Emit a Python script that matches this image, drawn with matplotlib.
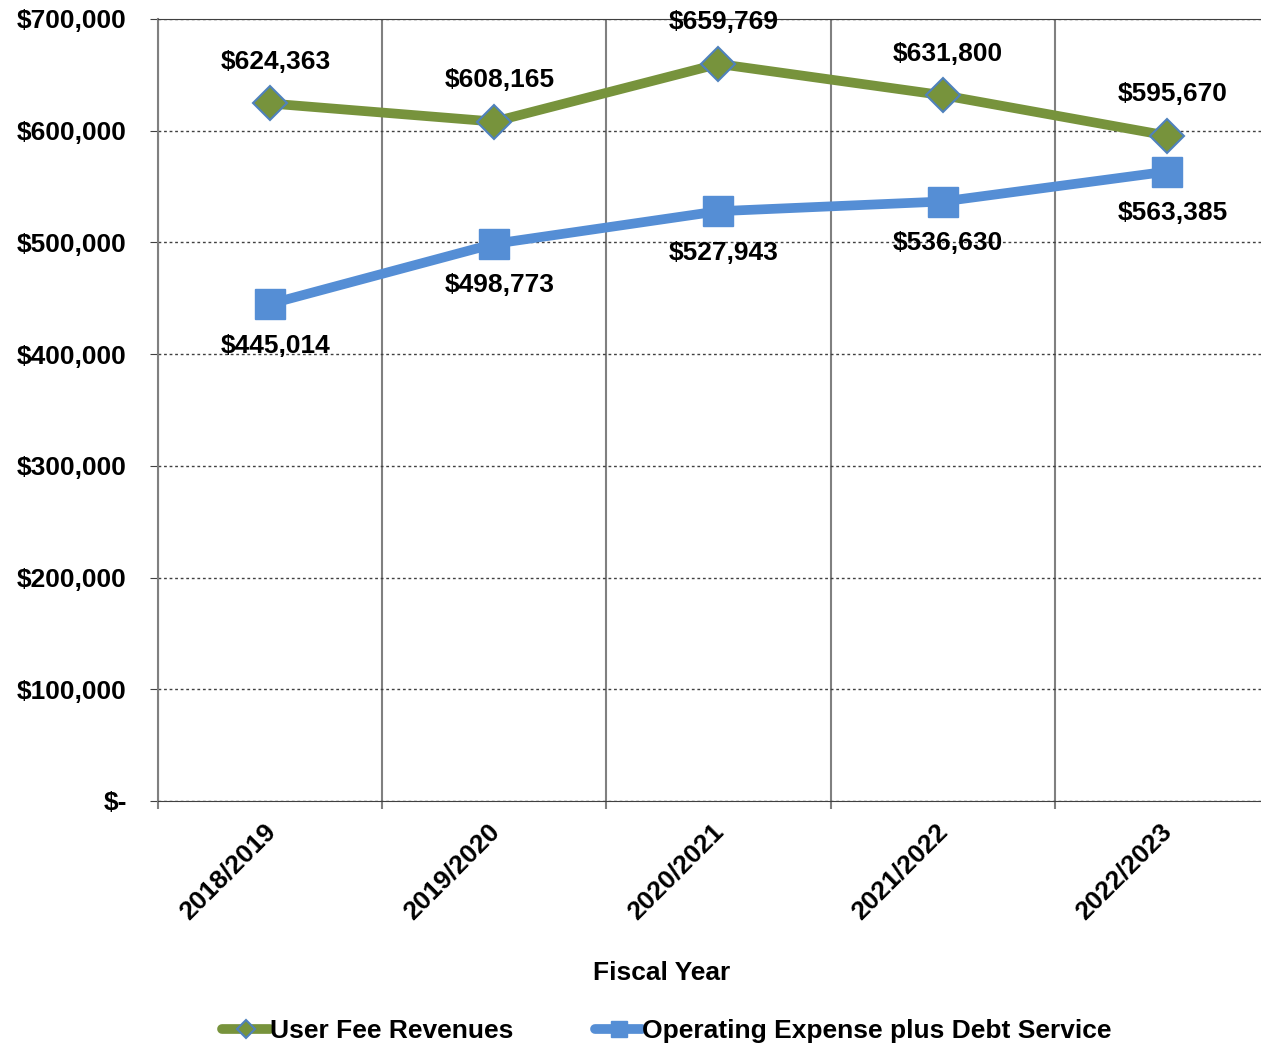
import matplotlib.pyplot as plt
from matplotlib.ticker import FuncFormatter, FixedLocator
from matplotlib.transforms import ScaledTranslation

# --- Data ---
years = ["2018/2019", "2019/2020", "2020/2021", "2021/2022", "2022/2023"]
revenues = [624363, 608165, 659769, 631800, 595670]
expenses = [445014, 498773, 527943, 536630, 563385]

plt.rcParams['font.family'] = ['Liberation Sans', 'DejaVu Sans']
plt.rcParams['font.weight'] = 'bold'

fig = plt.figure(figsize=(12.61, 10.49), dpi=100)
ax = fig.add_axes([158 / 1261, 248 / 1049, 1 - 158 / 1261, (801 - 19) / 1049])

x = list(range(len(years)))

# --- Lines ---
ax.plot(x, revenues, color="#77933C", lw=7, marker="D", ms=17,
        mfc="#77933C", mec="#4F81BD", mew=1.5, label="User Fee Revenues",
        solid_capstyle="round", zorder=3)
ax.plot(x, expenses, color="#558ED5", lw=7, marker="s", ms=22,
        mfc="#558ED5", mec="#558ED5", label="Operating Expense plus Debt Service",
        solid_capstyle="round", zorder=3)

# --- Data labels ---
for xi, v in zip(x, revenues):
    ax.annotate(f"${v:,}", (xi, v), xytext=(4, 30), textcoords="offset points",
                ha="center", va="center", fontsize=19, fontweight="bold")
for xi, v in zip(x, expenses):
    ax.annotate(f"${v:,}", (xi, v), xytext=(4, -30), textcoords="offset points",
                ha="center", va="center", fontsize=19, fontweight="bold")

# --- Axes ---
ax.set_ylim(0, 700000)
ax.set_xlim(-0.5, 4.42)
ax.set_yticks(range(0, 700001, 100000))
ax.yaxis.set_major_formatter(FuncFormatter(lambda v, p: "$-" if v == 0 else f"${int(v):,}"))
ax.tick_params(axis="y", labelsize=19, length=6, color="#404040", pad=16.5)
ax.yaxis.grid(True, linestyle=(0, (2, 2)), color="#404040", lw=1)

ax.xaxis.set_major_locator(FixedLocator(x))
ax.set_xticklabels(years, rotation=45, ha="right", rotation_mode="anchor",
                   fontsize=19, fontweight="bold")
ax.tick_params(axis="x", length=0, pad=13)
shift = ScaledTranslation(-7 / 100, 0, fig.dpi_scale_trans)
for lbl in ax.get_xticklabels():
    lbl.set_transform(lbl.get_transform() + shift)
ax.xaxis.set_minor_locator(FixedLocator([i - 0.5 for i in range(len(years))]))
ax.tick_params(axis="x", which="minor", length=6, color="#808080", width=1.5)
ax.xaxis.grid(True, which="minor", color="#808080", lw=1.5)

ax.spines["right"].set_visible(False)
ax.spines["top"].set_color("#404040")
ax.spines["bottom"].set_color("#404040")
ax.spines["left"].set_color("#808080")
ax.spines["left"].set_linewidth(1.5)
ax.set_axisbelow(True)

ax.set_xlabel("Fiscal Year", fontsize=19, fontweight="bold")
ax.xaxis.set_label_coords(0.457, -0.205)

fig.legend(loc="center", bbox_to_anchor=(0.529, 1 - 1031 / 1049), ncol=2, frameon=False,
           handlelength=1.8, handletextpad=0, columnspacing=3.1,
           prop={"weight": "bold", "size": 19}, markerscale=0.55)

fig.savefig("out.png", dpi=100)
